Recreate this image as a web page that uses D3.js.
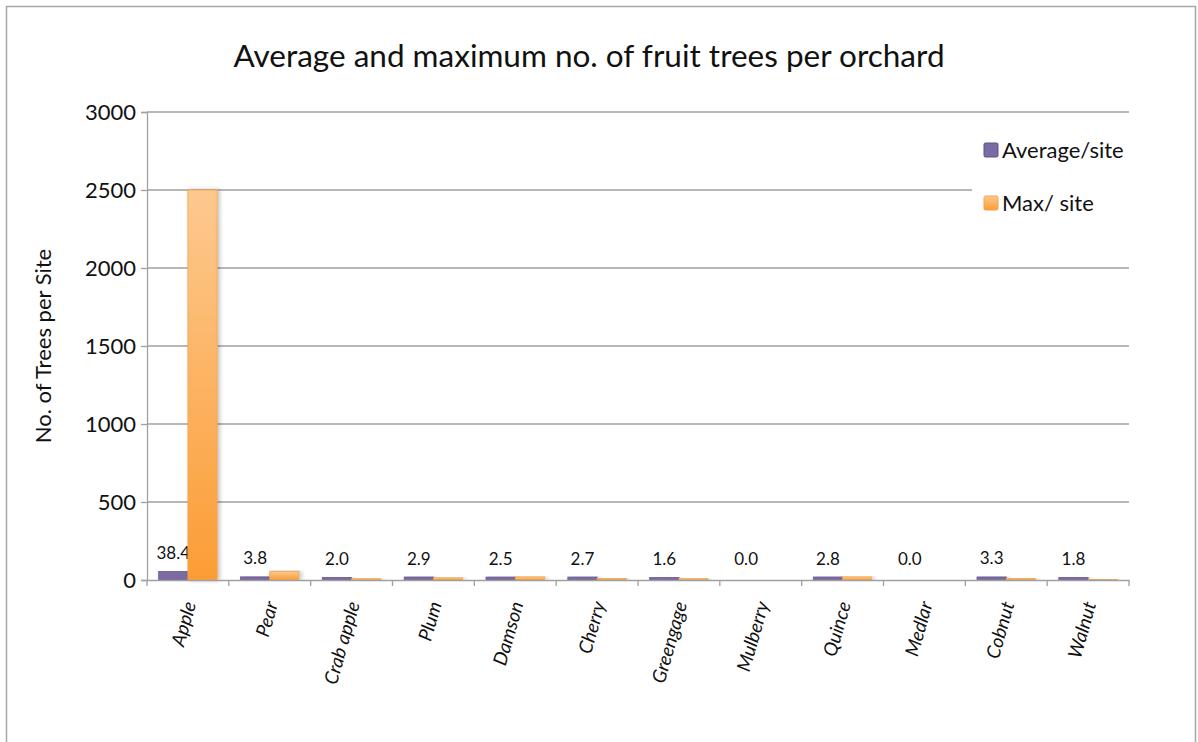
<!DOCTYPE html>
<html>
<head>
<meta charset="utf-8">
<script src="https://cdn.jsdelivr.net/npm/d3@7"></script>
<style>
  body { margin: 0; background: #fff; }
  text { font-family: Lato, "Open Sans", sans-serif; fill: #111; }
</style>
</head>
<body>
<svg id="chart"></svg>
<script>
const categories = ["Apple", "Pear", "Crab apple", "Plum", "Damson", "Cherry", "Greengage", "Mulberry", "Quince", "Medlar", "Cobnut", "Walnut"];
const averagePerSite = [38.4, 3.8, 2.0, 2.9, 2.5, 2.7, 1.6, 0.0, 2.8, 0.0, 3.3, 1.8];
const maxPerSite = [2500, 55, 8, 14, 20, 10, 8, 0, 20, 0, 10, 6];
const yTicks = [0, 500, 1000, 1500, 2000, 2500, 3000];
const seriesNames = ["Average/site", "Max/ site"];

const width = 1198;
const height = 742;
const margin = { top: 112, right: 69, bottom: 162, left: 147 };

const svg = d3.select("#chart")
	.attr("width", width)
	.attr("height", height);

const defs = svg.append("defs");
const grad = defs.append("linearGradient")
	.attr("id", "orangeGrad")
	.attr("x1", 0).attr("y1", 0).attr("x2", 0).attr("y2", 1);
grad.append("stop").attr("offset", "0%").attr("stop-color", "#fdc98f");
grad.append("stop").attr("offset", "100%").attr("stop-color", "#fb9d35");

const shadow = defs.append("filter").attr("id", "shadow")
	.attr("x", "-20%").attr("y", "-5%").attr("width", "160%").attr("height", "110%");
shadow.append("feDropShadow")
	.attr("dx", 2).attr("dy", 0).attr("stdDeviation", 2)
	.attr("flood-color", "#000").attr("flood-opacity", 0.25);

// outer frame
svg.append("rect")
	.attr("x", 6.5).attr("y", 6.5)
	.attr("width", 1189).attr("height", 780)
	.attr("fill", "none")
	.attr("stroke", "#a6a6a6")
	.attr("stroke-width", 1.5);

const x = d3.scaleBand()
	.domain(categories)
	.range([margin.left, width - margin.right])
	.paddingInner(0)
	.paddingOuter(0);

const xs = d3.scaleBand()
	.domain([0, 1])
	.range([0, x.bandwidth()])
	.paddingOuter(0.4)
	.paddingInner(0);

const y = d3.scaleLinear()
	.domain([0, 3000])
	.range([height - margin.bottom, margin.top]);

// grid
svg.append("g")
	.selectAll("line")
	.data(yTicks.filter(d => d > 0))
	.enter().append("line")
	.attr("x1", margin.left)
	.attr("x2", d => d === 2500 ? 972 : width - margin.right)
	.attr("y1", d => y(d))
	.attr("y2", d => y(d))
	.attr("stroke", "#a0a0a0")
	.attr("stroke-width", 1.3);

// y axis
const yAxis = svg.append("g")
	.attr("transform", `translate(${margin.left},0)`)
	.call(d3.axisLeft(y).tickValues(yTicks).tickFormat(d3.format("d")).tickSize(6).tickPadding(5));
yAxis.select(".domain").attr("stroke", "#a0a0a0").attr("stroke-width", 1.3);
yAxis.selectAll(".tick line").attr("stroke", "#a0a0a0").attr("stroke-width", 1.3);
yAxis.selectAll("text")
	.style("font-size", "22px")
	.style("font-family", "Lato, 'Open Sans', sans-serif")
	.attr("fill", "#111");

// bars
const groups = svg.append("g")
	.selectAll("g")
	.data(categories)
	.enter().append("g")
	.attr("transform", d => `translate(${x(d)},0)`);

groups.append("rect")
	.attr("x", xs(0))
	.attr("width", xs.bandwidth())
	.attr("y", (d, i) => y(averagePerSite[i]) - 2.5)
	.attr("height", (d, i) => averagePerSite[i] > 0 ? y(0) - y(averagePerSite[i]) + 2.5 : 0)
	.attr("fill", "#7b6aa3")
	.attr("stroke", "#6a5991")
	.attr("stroke-width", 0.8)
	.attr("filter", "url(#shadow)");

// value labels (drawn under the max bars, as in the original)
groups.append("text")
	.attr("x", xs(0) + xs.bandwidth() / 2)
	.attr("y", (d, i) => y(averagePerSite[i]) - 15)
	.attr("text-anchor", "middle")
	.style("font-size", "17px")
	.text((d, i) => averagePerSite[i].toFixed(1));

groups.append("rect")
	.attr("x", xs(1))
	.attr("width", xs.bandwidth())
	.attr("y", (d, i) => y(maxPerSite[i]))
	.attr("height", (d, i) => y(0) - y(maxPerSite[i]))
	.attr("fill", "url(#orangeGrad)")
	.attr("stroke", "#f7a24a")
	.attr("stroke-width", 0.8)
	.attr("filter", "url(#shadow)");

// x axis
const xAxis = svg.append("g")
	.attr("transform", `translate(0,${y(0)})`)
	.call(d3.axisBottom(x).tickSize(0).tickFormat(""));
xAxis.select(".domain").attr("stroke", "#a0a0a0").attr("stroke-width", 1.3);

svg.append("g")
	.selectAll("line")
	.data(d3.range(categories.length + 1))
	.enter().append("line")
	.attr("x1", i => margin.left + i * x.step())
	.attr("x2", i => margin.left + i * x.step())
	.attr("y1", y(0))
	.attr("y2", y(0) + 6)
	.attr("stroke", "#a0a0a0")
	.attr("stroke-width", 1.3);

svg.append("g")
	.selectAll("text")
	.data(categories)
	.enter().append("text")
	.attr("transform", d => `translate(${x(d) + x.bandwidth() / 2 + 2},${y(0) + 22}) rotate(-74)`)
	.attr("text-anchor", "end")
	.attr("dy", "0.35em")
	.style("font-size", "19px")
	.style("font-style", "italic")
	.text(d => d);

// title
svg.append("text")
	.attr("x", 589)
	.attr("y", 67)
	.attr("text-anchor", "middle")
	.style("font-size", "31.5px")
	.text("Average and maximum no. of fruit trees per orchard");

// y label
svg.append("text")
	.attr("transform", `translate(51,${(y(0) + y(3000)) / 2}) rotate(-90)`)
	.attr("text-anchor", "middle")
	.style("font-size", "22px")
	.text("No. of Trees per Site");

// legend
const legendColors = ["#7b6aa3", "url(#orangeGrad)"];
const legendStroke = ["#5e4f86", "#f7a24a"];
const legend = svg.append("g")
	.selectAll("g")
	.data(seriesNames)
	.enter().append("g")
	.attr("transform", (d, i) => `translate(984,${143 + i * 53})`);
legend.append("rect")
	.attr("width", 14).attr("height", 14)
	.attr("rx", 1.5)
	.attr("fill", (d, i) => legendColors[i])
	.attr("stroke", (d, i) => legendStroke[i])
	.attr("stroke-width", 1);
legend.append("text")
	.attr("x", 18)
	.attr("y", 7)
	.attr("dy", "0.35em")
	.style("font-size", "22px")
	.text(d => d);
</script>
</body>
</html>
